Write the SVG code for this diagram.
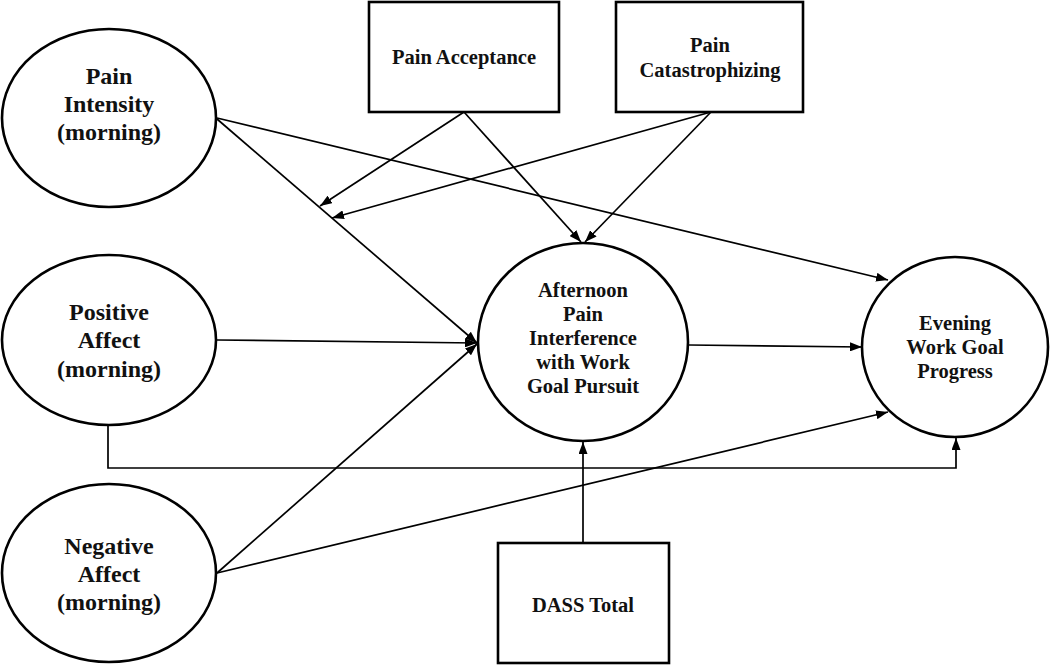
<svg xmlns="http://www.w3.org/2000/svg" width="1050" height="665" viewBox="0 0 1050 665">
<style>
.node{fill:#fff;stroke:#000;stroke-width:2.6}
.lbl{font-family:"Liberation Serif","Times New Roman",serif;font-weight:bold;fill:#111;text-anchor:middle}
.big{font-size:24px}
.mid{font-size:20.5px}
.con{fill:none;stroke:#000;stroke-width:1.7}
</style>
<defs>
<marker id="ah" viewBox="0 0 12 9" refX="12" refY="4.5" markerWidth="12" markerHeight="9" markerUnits="userSpaceOnUse" orient="auto">
<path d="M0,0 L12,4.5 L0,9 z" fill="#000"/>
</marker>
</defs>
<rect width="1050" height="665" fill="#fff"/>
<g id="connectors">
<line class="con" x1="217" y1="118" x2="888" y2="280" marker-end="url(#ah)"/>
<line class="con" x1="217" y1="119" x2="477" y2="343" marker-end="url(#ah)"/>
<line class="con" x1="217" y1="340" x2="477" y2="343" marker-end="url(#ah)"/>
<line class="con" x1="217" y1="573" x2="477" y2="344" marker-end="url(#ah)"/>
<line class="con" x1="217" y1="573" x2="888" y2="412" marker-end="url(#ah)"/>
<line class="con" x1="689" y1="345" x2="862" y2="347" marker-end="url(#ah)"/>
<path class="con" d="M108,424 V468 H956 V438" marker-end="url(#ah)"/>
<line class="con" x1="464" y1="112" x2="320" y2="206" marker-end="url(#ah)"/>
<line class="con" x1="464" y1="112" x2="581" y2="242" marker-end="url(#ah)"/>
<line class="con" x1="711" y1="112" x2="332" y2="218" marker-end="url(#ah)"/>
<line class="con" x1="711" y1="112" x2="585" y2="242" marker-end="url(#ah)"/>
<line class="con" x1="583" y1="543" x2="583" y2="442" marker-end="url(#ah)"/>
</g>
<g id="pain-intensity">
<ellipse class="node" cx="109" cy="118" rx="107" ry="89"/>
<text class="lbl big" x="109" y="84">Pain</text>
<text class="lbl big" x="109" y="112">Intensity</text>
<text class="lbl big" x="109" y="140">(morning)</text>
</g>
<g id="positive-affect">
<ellipse class="node" cx="109" cy="340" rx="107" ry="85"/>
<text class="lbl big" x="109" y="320">Positive</text>
<text class="lbl big" x="109" y="348">Affect</text>
<text class="lbl big" x="109" y="377">(morning)</text>
</g>
<g id="negative-affect">
<ellipse class="node" cx="109" cy="573" rx="107" ry="89"/>
<text class="lbl big" x="109" y="554">Negative</text>
<text class="lbl big" x="109" y="582">Affect</text>
<text class="lbl big" x="109" y="610">(morning)</text>
</g>
<g id="pain-acceptance">
<rect class="node" x="369" y="2" width="190" height="110"/>
<text class="lbl mid" x="464" y="64">Pain Acceptance</text>
</g>
<g id="pain-catastrophizing">
<rect class="node" x="616" y="2" width="187" height="110"/>
<text class="lbl mid" x="710" y="52">Pain</text>
<text class="lbl mid" x="710" y="77">Catastrophizing</text>
</g>
<g id="afternoon-interference">
<ellipse class="node" cx="583" cy="342" rx="105" ry="99"/>
<text class="lbl mid" x="583" y="297">Afternoon</text>
<text class="lbl mid" x="583" y="321">Pain</text>
<text class="lbl mid" x="583" y="345">Interference</text>
<text class="lbl mid" x="583" y="369">with Work</text>
<text class="lbl mid" x="583" y="393">Goal Pursuit</text>
</g>
<g id="evening-progress">
<ellipse class="node" cx="955" cy="347" rx="93" ry="90"/>
<text class="lbl mid" x="955" y="330">Evening</text>
<text class="lbl mid" x="955" y="354">Work Goal</text>
<text class="lbl mid" x="955" y="378">Progress</text>
</g>
<g id="dass-total">
<rect class="node" x="498" y="543" width="171" height="120"/>
<text class="lbl mid" x="583" y="612">DASS Total</text>
</g>
</svg>
